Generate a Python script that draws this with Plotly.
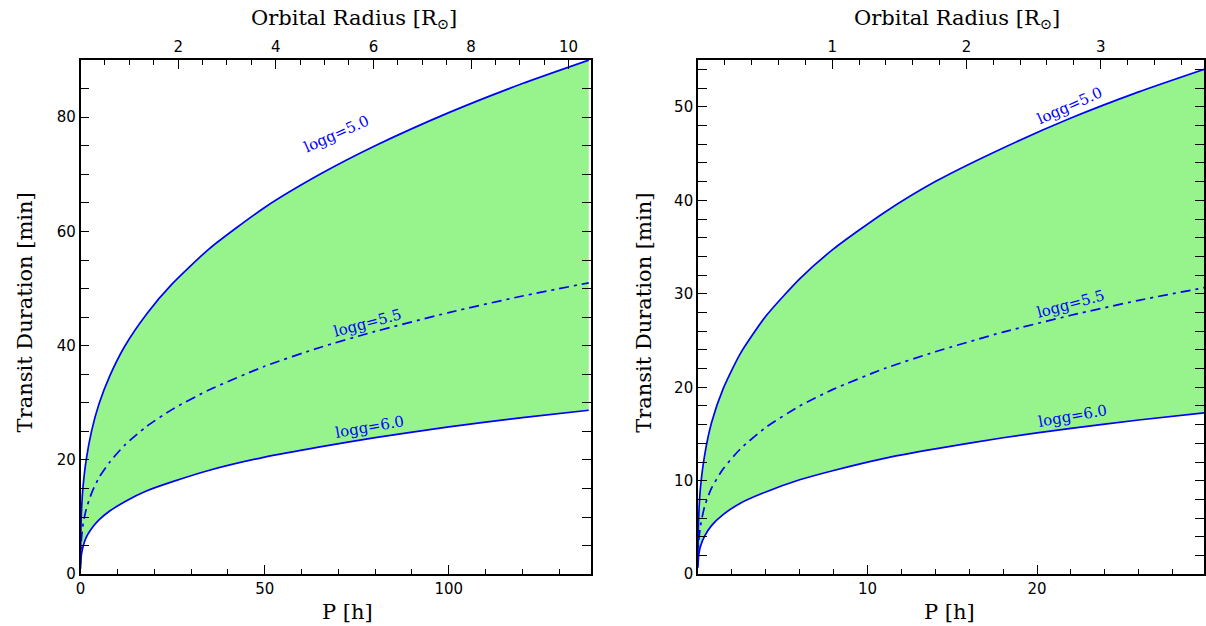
import plotly.graph_objects as go

# ---------------- data ----------------
# Left panel: period P [h] and transit duration [min]
P_left = [0.005, 0.02, 0.1, 0.3, 0.7, 1.5, 3, 5, 8, 12, 18, 25, 35, 50, 65, 80, 100, 120, 138]
T50_left = [3.0, 4.7, 8.1, 11.7, 15.5, 19.9, 25.1, 29.8, 34.8, 39.9, 45.6, 50.9, 57.0, 64.2, 70.0, 75.0, 80.8, 85.9, 90.0]
T55_left = [1.7, 2.7, 4.6, 6.6, 8.8, 11.3, 14.2, 16.9, 19.7, 22.6, 25.9, 28.9, 32.3, 36.4, 39.7, 42.5, 45.8, 48.7, 51.0]
T60_left = [0.95, 1.5, 2.6, 3.7, 4.9, 6.4, 8.0, 9.5, 11.1, 12.7, 14.6, 16.2, 18.2, 20.5, 22.3, 23.9, 25.8, 27.4, 28.7]

# Right panel
P_right = [0.002, 0.01, 0.05, 0.15, 0.4, 0.8, 1.5, 2.5, 4, 6, 8, 11, 14, 18, 22, 26, 30]
T50_right = [2.2, 3.7, 6.4, 9.3, 12.8, 16.2, 19.9, 23.6, 27.6, 31.6, 34.8, 38.7, 42.0, 45.6, 48.8, 51.6, 54.1]
T55_right = [1.2, 2.1, 3.6, 5.2, 7.3, 9.2, 11.3, 13.4, 15.7, 18.0, 19.8, 22.0, 23.8, 25.9, 27.7, 29.3, 30.7]
T60_right = [0.7, 1.2, 2.1, 3.0, 4.1, 5.2, 6.4, 7.6, 8.8, 10.1, 11.1, 12.4, 13.4, 14.6, 15.6, 16.5, 17.3]

curve_labels = ["logg=5.0", "logg=5.5", "logg=6.0"]
# label anchor positions (P, T) and angles
label_pos_left = [(69.5, 77.0), (78.0, 43.9), (78.5, 25.7)]
label_pos_right = [(21.9, 50.1), (22.0, 28.9), (22.1, 16.9)]
label_angles = [-24, -15, -10]

# axis ranges and tick labels
xrange_left = [0, 138.5]
yrange_left = [0, 90]
xrange_right = [0, 29.85]
yrange_right = [0, 55]
radius_range_left = [0, 10.45]
radius_range_right = [0, 3.77]
xticks_left = [0, 50, 100]
xticks_right = [10, 20]
radius_ticks_left = [2, 4, 6, 8, 10]
radius_ticks_right = [1, 2, 3]

# ---------------- styling ----------------
W, H = 1206, 636
SY = H / 626.0          # vertical compensation: target pixel rows -> figure rows
BLUE = "#0000FF"
FILL = "#97F48C"
SERIF = "DejaVu Serif"
TICKFONT = dict(family="DejaVu Sans", size=15, color="black")
DASHDOT = "10px,5px,3px,5px"
LW = 1.7

fig = go.Figure()


def add_panel(P, t50, t55, t60, xa, ya):
    fig.add_trace(go.Scatter(x=P, y=t60, mode="lines", line=dict(color=BLUE, width=LW, shape="spline", smoothing=0.6),
                             xaxis=xa, yaxis=ya, showlegend=False, hoverinfo="skip"))
    fig.add_trace(go.Scatter(x=P, y=t50, mode="lines", line=dict(color=BLUE, width=LW, shape="spline", smoothing=0.6),
                             fill="tonexty", fillcolor=FILL,
                             xaxis=xa, yaxis=ya, showlegend=False, hoverinfo="skip"))
    fig.add_trace(go.Scatter(x=P, y=t55, mode="lines",
                             line=dict(color=BLUE, width=LW, dash=DASHDOT, shape="spline", smoothing=0.6),
                             xaxis=xa, yaxis=ya, showlegend=False, hoverinfo="skip"))


add_panel(P_left, T50_left, T55_left, T60_left, "x", "y")
add_panel(P_right, T50_right, T55_right, T60_right, "x2", "y2")

# empty helper traces so that the top (orbital radius) axes are drawn
fig.add_trace(go.Scatter(x=radius_range_left, y=[None, None], mode="lines", xaxis="x3", yaxis="y",
                         showlegend=False, hoverinfo="skip"))
fig.add_trace(go.Scatter(x=radius_range_right, y=[None, None], mode="lines", xaxis="x4", yaxis="y2",
                         showlegend=False, hoverinfo="skip"))

# geometry in (target) pixels
L_x0, L_x1 = 76.0, 589.0
R_x0, R_x1 = 697.0, 1206.0
Y_top, Y_bot = 60.0 * SY, 573.3 * SY
ydom = [(H - Y_bot) / H, (H - Y_top) / H]


def common_axis(**kw):
    d = dict(showgrid=False, zeroline=False, showline=True, linecolor="black", linewidth=1.5,
             ticks="inside", ticklen=9, tickwidth=1.3, tickcolor="black", tickfont=TICKFONT)
    d.update(kw)
    return d


def minor(dt):
    return dict(ticks="inside", ticklen=5, dtick=dt, tick0=0, tickwidth=1.2, tickcolor="black")


fig.update_layout(
    width=W, height=H,
    margin=dict(l=0, r=0, t=0, b=0),
    paper_bgcolor="white", plot_bgcolor="white",
    xaxis=common_axis(domain=[L_x0 / W, L_x1 / W], range=xrange_left, anchor="y", tickvals=xticks_left,
                      mirror=True, minor=minor(10)),
    yaxis=common_axis(domain=ydom, range=yrange_left, anchor="x", dtick=20, mirror="allticks", minor=minor(5)),
    xaxis3=common_axis(overlaying="x", side="top", anchor="y", range=radius_range_left,
                       tickvals=radius_ticks_left, minor=minor(0.5)),
    xaxis2=common_axis(domain=[R_x0 / W, R_x1 / W], range=xrange_right, anchor="y2", tickvals=xticks_right,
                       mirror=True, minor=minor(2)),
    yaxis2=common_axis(domain=ydom, range=yrange_right, anchor="x2", dtick=10, mirror="allticks", minor=minor(2)),
    xaxis4=common_axis(overlaying="x2", side="top", anchor="y2", range=radius_range_right,
                       tickvals=radius_ticks_right, minor=minor(0.2)),
)

# curve labels
for (px, ty), txt, ang in zip(label_pos_left, curve_labels, label_angles):
    fig.add_annotation(x=px, y=ty, xref="x", yref="y", text=txt, showarrow=False, textangle=ang,
                       font=dict(family=SERIF, size=15, color=BLUE))
for (px, ty), txt, ang in zip(label_pos_right, curve_labels, label_angles):
    fig.add_annotation(x=px, y=ty, xref="x2", yref="y2", text=txt, showarrow=False, textangle=ang,
                       font=dict(family=SERIF, size=15, color=BLUE))

# axis titles as annotations (pixel-placed)
TITLEFONT = dict(family=SERIF, size=21, color="black")


def pann(xpx, ypx, text, angle=0):
    fig.add_annotation(x=xpx / W, y=(H - ypx * SY) / H, xref="paper", yref="paper", text=text, showarrow=False,
                       textangle=angle, font=TITLEFONT, xanchor="center", yanchor="middle")


pann(351, 19, "Orbital Radius [R<sub>⊙</sub>]")
pann(958, 19, "Orbital Radius [R<sub>⊙</sub>]")
pann(344, 611, "P [h]")
pann(950, 611, "P [h]")
pann(21, 312, "Transit Duration [min]", -90)
pann(643, 312, "Transit Duration [min]", -90)

fig.write_html(
    "out.html",
    config={"displayModeBar": False, "responsive": False},
    post_script=(
        "document.documentElement.style.margin='0';document.documentElement.style.padding='0';"
        "document.documentElement.style.overflow='hidden';"
        "document.body.style.margin='0';document.body.style.padding='0';document.body.style.overflow='hidden';"
    ),
)
